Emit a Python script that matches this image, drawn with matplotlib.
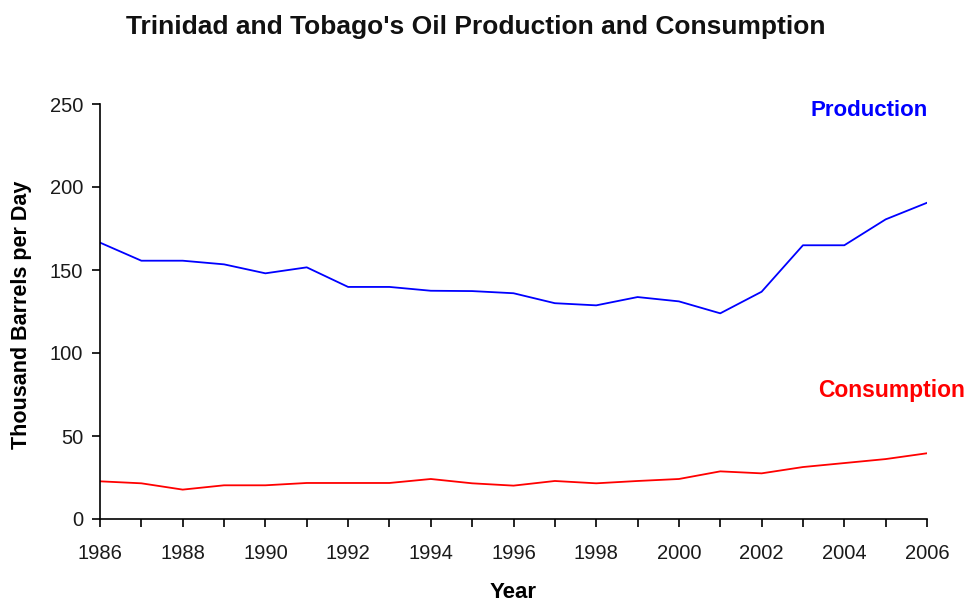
import matplotlib
matplotlib.use("Agg")
import matplotlib.pyplot as plt
from matplotlib.ticker import MultipleLocator

plt.rcParams['font.family'] = ['Liberation Sans', 'DejaVu Sans']

years = list(range(1986, 2007))
production = [166.5, 155.6, 155.6, 153.4, 148.0, 151.6, 139.8, 139.8, 137.5, 137.3, 136.0,
              130.0, 128.7, 133.7, 131.1, 123.9, 136.9, 164.9, 164.9, 180.5, 190.5]
consumption = [22.7, 21.5, 17.7, 20.3, 20.3, 21.7, 21.7, 21.7, 24.1, 21.5, 20.1,
               22.9, 21.5, 22.9, 24.1, 28.7, 27.5, 31.3, 33.7, 36.1, 39.6]

fig = plt.figure(figsize=(9.68, 6.02), dpi=100)
ax = fig.add_axes([100/968, 1-519/602, (927-100)/968, (519-104)/602])

ax.plot(years, production, color='#0000ff', lw=1.3)
ax.plot(years, consumption, color='#ff0000', lw=1.3)

ax.set_xlim(1986, 2006)
ax.set_ylim(0, 250)
ax.xaxis.set_major_locator(MultipleLocator(2))
ax.xaxis.set_minor_locator(MultipleLocator(1))
ax.yaxis.set_major_locator(MultipleLocator(50))
ax.spines['top'].set_visible(False)
ax.spines['right'].set_visible(False)
for s in ['left', 'bottom']:
    ax.spines[s].set_linewidth(1.2)
ax.tick_params(axis='both', which='both', direction='out', width=1.2, length=6,
               labelsize=14.5, color='black', labelcolor='#1a1a1a')
ax.tick_params(axis='x', which='minor', length=6)
ax.tick_params(axis='x', pad=12)
ax.tick_params(axis='y', pad=6)

fig.text(513/968, 1-592/602, 'Year', ha='center', va='center', fontsize=16, fontweight='bold')
fig.text(22/968, 1-315/602, 'Thousand Barrels per Day', ha='center', va='center',
         rotation=90, fontsize=15.5, fontweight='bold')

fig.text(476/968, 1-27/602, "Trinidad and Tobago's Oil Production and Consumption",
         ha='center', va='center', fontsize=19, fontweight='bold', color='#111111')
fig.text(928/968, 1-110/602, 'Production', color='#0000ff', ha='right', va='center',
         fontsize=16, fontweight='bold')
fig.text(965/968, 1-390/602, 'Consumption', color='#ff0000', ha='right', va='center',
         fontsize=16.5, fontweight='bold')

fig.savefig('out.png', dpi=100)
